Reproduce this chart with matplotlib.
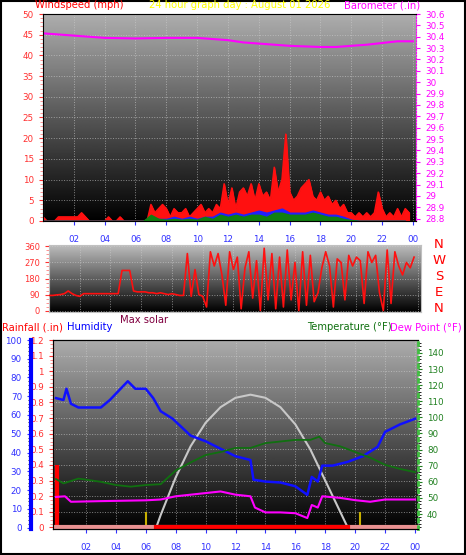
import numpy as np
import matplotlib
matplotlib.use("Agg")
import matplotlib.pyplot as plt

W, H = 466, 555
# ---------------- data ----------------
t96 = np.arange(96) * 0.25
gust = [1,0,0,0, 1,1,1,1, 1,1,2,1, 0,0,0,0, 0,1,0,0, 1,0,0,0, 0,0,0,0,
        4,2,3,4, 3,1,3,2, 2,3,1,2, 3,4,2,3, 2,4,3,9, 4,8,3,7, 8,6,9,5,
        9,6,7,5, 13,7,10,21, 7,5,6,8, 9,10,6,5, 7,5,6,4, 5,3,4,2, 2,1,2,1,
        2,1,2,7, 3,1,2,1, 3,1,3,2]
t48 = np.arange(48) * 0.5
wind_avg = [0]*14 + [1,0.5,0.5,1,0.5,1,0.5,1,1,2,1.5,2,1.5,2,2.5,2,2.5,3,2,2,2,2.5,2,1.5,1.5,1,0.3,0] + [0]*6
wind_low = [0]*14 + [1.5,0.5,0.3,0.5,0.3,0.5,0.3,1,0.5,1.5,1,1.5,1,1.5,1.5,1,2,2,1.5,1.5,1.5,2,1.5,1,1,0.5,0.2,0] + [0]*6
baro_t = [0, 1, 2, 4, 6, 8, 10, 11, 12, 13, 14, 15, 16, 17, 18, 19, 20, 21, 22, 23, 24]
baro = [30.43, 30.42, 30.41, 30.39, 30.385, 30.39, 30.39, 30.38, 30.37, 30.35, 30.34,
        30.33, 30.32, 30.315, 30.31, 30.31, 30.32, 30.33, 30.345, 30.36, 30.36]
wdir = [85,85,88,90, 95,110,95,85, 80,95,95,95, 95,95,95,95, 95,95,95,225,
        225,225,110,105, 105,105,100,100, 95,100,95,90, 95,90,85,85,
        320,80,230,90, 80,20,330,250, 320,200,30,330, 230,300,10,240,
        330,70,280,0, 350,60,320,10, 300,20,340,60, 270,0,330,30,
        310,50,100,240, 330,250,20,290, 270,60,310,250, 300,280,40,330,
        270,310,100,0, 340,40,330,250, 200,270,240,300]
hum_t = [0,0.5,0.7,1,1.5,3,3.6,4.8,5.3,6,6.5,7,7.8,9,10,11,12,13,13.2,14,15,16,16.8,17.1,17.5,17.8,18.5,19.5,20.5,21.5,22,23,24]
hum = [69,68,74,66,64,64,68,78,74,74,69,62,58,49,46,42,38,36,25.5,24.5,24,22,17.4,27,24.5,33,33,35,38,43,51,55,58]
tmp_t = [0,0.5,1.5,3,4,5,6,7,8,9,10,11,12,13,14,15,16,17,17.6,18,19,20,21,22,23,24]
temp = [61.7,59,62,60,58,57,58,58.5,67,72,76.6,78.5,81,81,84,85,86,86,88,84,82,78.5,75,70.5,68,66]
dew_t = [0,0.6,1,3,6,7,8,9,10,11,12,13,13.3,14,15,16,16.8,17.1,17.5,17.8,19,20,21,22,24]
dew = [50.6,51,47.6,48,48.5,49,51,52,53,54,52,51,44,41,41,40.5,37.5,45.6,44,51,50,48.6,47.6,49,49]
sol_t = [6.7,7,8,9,10,11,12,13,14,15,16,17,18,19,19.5]
solar = [0,0.08,0.32,0.52,0.67,0.77,0.83,0.85,0.83,0.77,0.66,0.5,0.3,0.1,0]
rain_t = [0.05]
rain = [0.40]
sun_marks = [6.0, 20.3]
xticks = [2,4,6,8,10,12,14,16,18,20,22,24]
xlabels = ["02","04","06","08","10","12","14","16","18","20","22","00"]

fig = plt.figure(figsize=(W/100, H/100), dpi=100)
fig.patch.set_facecolor("white")
fig.add_artist(plt.Rectangle((0.002, 0.002), 0.996, 0.996, transform=fig.transFigure,
                             fill=False, ec="black", lw=1.5))

def rect(l, r, t, b):
    return [l/W, 1-b/H, (r-l)/W, (b-t)/H]

def bg(ax, top=0.68):
    g = np.linspace(0, 1, 256).reshape(-1, 1)
    ax.imshow(g, cmap="gray", vmin=0, vmax=1/top, aspect="auto",
              extent=[0, 1, 0, 1], transform=ax.transAxes, zorder=0, origin="lower")
    ax.grid(True, color="#d0d0d0", ls=":", lw=0.7, alpha=0.6)
    for s in ax.spines.values():
        s.set_color("#c0c0c0")

FS = 6.3
TF = 7.2
# ------------- panel 1 -------------
ax1 = fig.add_axes(rect(43, 416, 14, 221))
bg(ax1)
ax1.fill_between(t96, gust, color="#ff1010", lw=0.8, zorder=2)
ax1.plot(t96, gust, color="#ff1010", lw=1.0, zorder=2)
ax1.fill_between(t48, wind_avg, color="#2020ff", zorder=3)
ax1.fill_between(t48, wind_low, color="#108010", zorder=4)
ax1.set_xlim(0, 24.2); ax1.set_ylim(0, 50)
ax1.set_yticks(range(0, 51, 5))
ax1.set_yticks(np.arange(0, 51, 1), minor=True)
ax1.tick_params(axis="y", colors="#ff3030", labelsize=FS, length=3)
ax1.tick_params(axis="y", which="minor", colors="#ff8080", length=2)
ax1.set_xticks(xticks); ax1.set_xticklabels(xlabels)
ax1.tick_params(axis="x", colors="#3030ff", labelsize=FS, length=3, pad=7)
ax1b = ax1.twinx()
ax1b.plot(baro_t, baro, color="#ff00ff", lw=1.5)
ax1b.set_ylim(28.78, 30.6)
bt = np.round(np.arange(28.8, 30.61, 0.1), 1)
ax1b.set_yticks(bt)
ax1b.set_yticklabels([f"{v:g}" for v in bt])
ax1b.tick_params(axis="y", colors="#ff00ff", labelsize=FS, length=3)
ax1b.spines["right"].set_color("#ff00ff"); ax1b.spines["right"].set_linestyle(":")
fig.text(35/W, 1-5/H, "Windspeed (mph)", color="red", fontsize=TF, va="center")
fig.text(240/W, 1-5/H, "24 hour graph day : August 01 2026", color="#ffff00", fontsize=TF, va="center", ha="center")
fig.text(420/W, 1-5/H, "Barometer (.in)", color="#ff00ff", fontsize=TF, va="center", ha="right")

# ------------- panel 2 -------------
ax2 = fig.add_axes(rect(49, 421, 245, 312))
bg(ax2, 0.75)
ax2.plot(t96, wdir, color="#ff1010", lw=1.2, zorder=3)
ax2.set_xlim(0, 24.2); ax2.set_ylim(-8, 368)
ax2.set_yticks([0, 90, 180, 270, 360])
ax2.set_yticks(np.arange(0, 361, 22.5), minor=True)
ax2.tick_params(axis="y", colors="#ff3030", labelsize=FS-0.3, length=3)
ax2.tick_params(axis="y", which="minor", colors="#ff8080", length=2)
ax2.set_xticks(xticks); ax2.set_xticklabels([])
ax2.tick_params(axis="x", length=0)
for lab, y in zip(["N", "W", "S", "E", "N"], [244, 260, 276, 292, 308]):
    fig.text(439/W, 1-y/H, lab, color="red", fontsize=9.5, ha="center", va="center")

# ------------- panel 3 -------------
ax3 = fig.add_axes(rect(53, 418, 340, 529))
bg(ax3, 0.68)
ax3.set_xlim(-0.2, 24.2); ax3.set_ylim(-0.01, 1.18)
ax3.plot(sol_t, solar, color="#c8c8c8", lw=1.5, zorder=3)
ax3.vlines(rain_t, 0, rain, color="red", lw=3, zorder=4)
ax3.vlines(sun_marks, 0, 0.1, color="#c8b000", lw=1.5, zorder=4)
ax3.plot([-0.2, 24.2], [0, 0], color="#e89090", lw=3, zorder=4)
ax3.plot([sol_t[0], sol_t[-1]], [0, 0], color="red", lw=3, zorder=5)
rt = np.round(np.arange(0, 1.21, 0.1), 1)
ax3.set_yticks(rt)
ax3.set_yticklabels([f"{v:g}" for v in rt])
ax3.set_yticks(np.arange(0, 1.2, 0.025), minor=True)
ax3.tick_params(axis="y", colors="#ff3030", labelsize=FS, length=3)
ax3.tick_params(axis="y", which="minor", colors="#ff8080", length=2)
ax3.spines["left"].set_color("red")
ax3.set_xticks(xticks); ax3.set_xticklabels(xlabels)
ax3.tick_params(axis="x", colors="#3030ff", labelsize=FS, length=3, pad=7)

axh = ax3.twinx()
axh.yaxis.tick_left(); axh.yaxis.set_label_position("left")
axh.spines["left"].set_visible(True)
axh.spines["left"].set_position(("axes", (31-53)/365))
axh.spines["left"].set_color("blue"); axh.spines["left"].set_linewidth(3)
axh.spines["right"].set_visible(False)
axh.plot(hum_t, hum, color="#1010ff", lw=1.8, zorder=6)
axh.set_ylim(-0.8, 98.5)
axh.set_yticks(range(0, 101, 10))
axh.set_yticks(range(0, 101, 2), minor=True)
axh.tick_params(axis="y", colors="#3030ff", labelsize=FS, length=3)

axt = ax3.twinx()
axt.plot(tmp_t, temp, color="#107010", lw=1.3)
axt.plot(dew_t, dew, color="#ff00ff", lw=1.5)
axt.set_ylim(30.7, 148)
axt.set_yticks(range(40, 141, 10))
axt.set_yticks(range(32, 148, 2), minor=True)
axt.tick_params(axis="y", colors="#208020", labelsize=FS, length=3)
axt.spines["right"].set_color("#40c040"); axt.spines["right"].set_linestyle(":")
axt.spines["right"].set_linewidth(2)

fig.text(2/W, 1-327/H, "Rainfall (.in)", color="red", fontsize=TF, va="center")
fig.text(67/W, 1-327/H, "Humidity", color="blue", fontsize=TF, va="center")
fig.text(120/W, 1-320/H, "Max solar", color="#800040", fontsize=TF, va="center")
fig.text(392/W, 1-327/H, "Temperature (°F)", color="#107010", fontsize=TF, va="center", ha="right")
fig.text(462/W, 1-327/H, "Dew Point (°F)", color="#ff00ff", fontsize=TF, va="center", ha="right")

fig.savefig("out.png", dpi=100)
